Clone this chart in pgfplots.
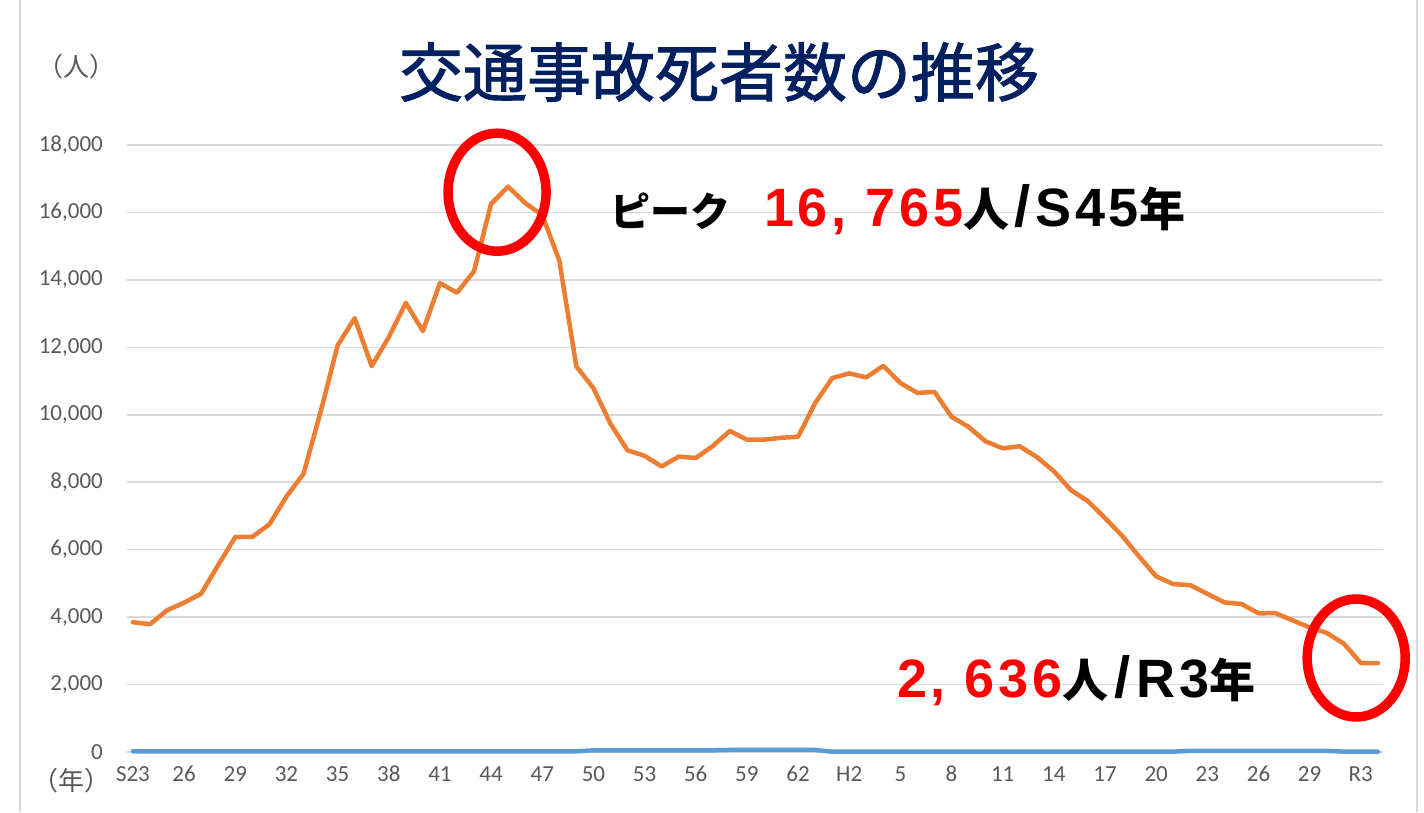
\documentclass[border=0pt]{standalone}
\usepackage{fontspec}
\usepackage{pgfplots}
\usepackage{pgfplotstable}
\pgfplotsset{compat=1.18}
\setmainfont{Carlito}
\newfontfamily\cjk{Noto Sans CJK JP}
\newfontfamily\cjkt{Noto Sans CJK JP}[FakeBold=1.5]
\newfontfamily\latb{Liberation Sans}[LetterSpace=7]
\newfontfamily\latr{Liberation Sans}
\definecolor{xlorange}{HTML}{ED7D31}
\definecolor{xlblue}{HTML}{5B9BD5}
\definecolor{gridgray}{HTML}{D9D9D9}
\definecolor{labelgray}{HTML}{595959}
\definecolor{navy}{HTML}{002060}
\definecolor{xred}{HTML}{FF0000}

\pgfplotstableread{
i d b
0 3848 20
1 3790 20
2 4202 20
3 4429 20
4 4696 20
5 5544 20
6 6374 20
7 6379 20
8 6751 20
9 7575 20
10 8248 20
11 10079 20
12 12055 20
13 12865 20
14 11445 20
15 12301 20
16 13318 20
17 12484 20
18 13904 20
19 13618 20
20 14256 20
21 16257 20
22 16765 20
23 16278 20
24 15918 20
25 14574 20
26 11432 20
27 10792 50
28 9734 50
29 8945 50
30 8783 50
31 8466 50
32 8760 50
33 8719 50
34 9073 50
35 9520 60
36 9262 60
37 9261 60
38 9317 60
39 9347 60
40 10344 60
41 11086 10
42 11227 10
43 11109 10
44 11452 10
45 10942 10
46 10649 10
47 10679 10
48 9942 10
49 9640 10
50 9211 10
51 9006 10
52 9066 10
53 8747 10
54 8326 10
55 7768 10
56 7436 10
57 6937 10
58 6415 10
59 5796 10
60 5209 10
61 4979 10
62 4948 35
63 4691 35
64 4438 35
65 4388 35
66 4113 35
67 4117 35
68 3904 35
69 3694 35
70 3532 35
71 3215 10
72 2640 10
73 2636 10
}\data

\begin{document}
\begin{tikzpicture}[x=1pt,y=1pt]
\useasboundingbox (0,0) rectangle (1424,812);
\fill[white] (0,0) rectangle (1424,812);
\draw[gridgray, line width=2pt] (20,0) -- (20,812);
\draw[gridgray, line width=2pt] (1417,0) -- (1417,812);
\begin{axis}[
  at={(127pt,60pt)}, anchor=south west,
  scale only axis, width=1256pt, height=607pt,
  xmin=-0.35, xmax=73.3, ymin=0, ymax=18000,
  clip=false,
  axis line style={draw=none},
  major tick length=0pt,
  ytick={0,2000,...,18000},
  scaled y ticks=false,
  ymajorgrids,
  grid style={color=gridgray, line width=1.5pt},
  xtick={0,3,...,72},
  xticklabels={S23,26,29,32,35,38,41,44,47,50,53,56,59,62,H2,5,8,11,14,17,20,23,26,29,R3},
  tick label style={font=\fontsize{23}{23}\selectfont, color=labelgray},
  yticklabel style={anchor=east, inner sep=0pt, xshift=-24pt,
    /pgf/number format/1000 sep={,},
    /pgf/number format/assume math mode=true},
  xticklabel style={anchor=north, inner sep=0pt, yshift=-14pt, text height=15pt, text depth=0pt},
]
\addplot[color=xlblue, line width=4.5pt, line join=round, line cap=round] table[x=i,y=b] {\data};
\addplot[color=xlorange, line width=4.5pt, line join=round, line cap=round] table[x=i,y=d] {\data};
\draw[xred, line width=9.5pt] (axis cs:21.35,16600) ellipse [x radius=49pt, y radius=59pt];
\draw[xred, line width=9.5pt] (axis cs:71.73,2788) ellipse [x radius=49pt, y radius=59pt];
\end{axis}
\node[anchor=center, inner sep=0pt, text=navy] at (719,740) {\cjkt\fontsize{64}{64}\selectfont 交通事故死者数の推移};
\node[anchor=center, inner sep=0pt, text=labelgray] at (76,745) {\cjk\fontsize{26}{26}\selectfont （人）};
\node[anchor=center, inner sep=0pt, text=labelgray] at (71,31) {\cjk\fontsize{26}{26}\selectfont （年）};
\node[anchor=base west, inner sep=0pt] at (610,585) {\cjk\bfseries{\fontsize{40}{40}\selectfont ピーク}\hspace{34pt}{\latb\bfseries\fontsize{54}{54}\selectfont\color{xred}16, 765}\fontsize{46}{46}\selectfont 人\hspace{5pt}{\latr\fontsize{58}{58}\selectfont /}\hspace{5pt}{\latb\bfseries\fontsize{54}{54}\selectfont S45}年};
\node[anchor=base west, inner sep=0pt] at (897,115) {\cjk\bfseries\fontsize{46}{46}\selectfont{\latb\bfseries\fontsize{54}{54}\selectfont\color{xred}2, 636}人\hspace{6pt}{\latr\fontsize{58}{58}\selectfont /}\hspace{6pt}{\latb\bfseries\fontsize{54}{54}\selectfont R3}年};
\end{tikzpicture}
\end{document}
